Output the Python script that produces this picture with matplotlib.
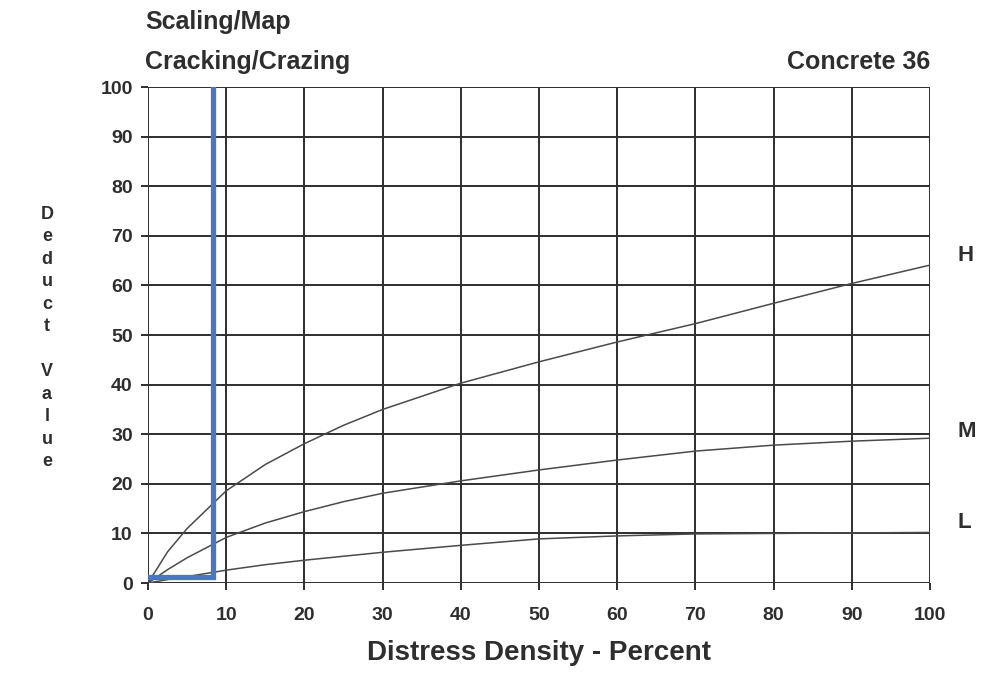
import numpy as np
import matplotlib.pyplot as plt

# Values
density = [0, 2.5, 5, 10, 15, 20, 25, 30, 40, 50, 60, 70, 80, 90, 100]
high = [0, 6.3, 11.0, 18.6, 23.9, 28.1, 31.8, 35.0, 40.3, 44.6, 48.6, 52.3, 56.4, 60.4, 64.1]
medium = [0, 2.7, 5.1, 9.2, 12.1, 14.4, 16.4, 18.1, 20.6, 22.8, 24.8, 26.6, 27.8, 28.6, 29.2]
low = [0, 0.7, 1.3, 2.6, 3.7, 4.6, 5.4, 6.2, 7.6, 8.9, 9.5, 9.9, 10.0, 10.1, 10.2]
levels = ['H', 'M', 'L']
label_y = [66, 30.5, 12.3]

# Blue reading line (density of 8.3 %)
marker_x = [0, 8.3, 8.3]
marker_y = [1.2, 1.2, 100]

ticks = np.arange(0, 101, 10)

plt.rcParams['font.family'] = ['Liberation Sans', 'DejaVu Sans']
fig = plt.figure(figsize=(9.83, 6.8), dpi=100)
ax = fig.add_axes([0.1506, 0.1426, 0.7955, 0.7294])

ink = '#2e2e2e'
for t in ticks:
    ax.axvline(t, color=ink, lw=1.4, zorder=1)
    ax.axhline(t, color=ink, lw=1.4, zorder=1)

for ys in [high, medium, low]:
    ax.plot(density, ys, color='#4a4a4a', lw=1.1, zorder=2)

ax.plot(marker_x, marker_y, color='#4a78c0', lw=3.8, solid_joinstyle='miter', zorder=3)

ax.set_xlim(0, 100)
ax.set_ylim(0, 100)
ax.set_xticks(ticks)
ax.set_yticks(ticks)
ax.tick_params(length=5, width=1.4, color=ink, labelcolor=ink, labelsize=14, pad=6)
ax.tick_params(axis='x', pad=12)
for lbl in ax.get_xticklabels() + ax.get_yticklabels():
    lbl.set_fontweight('bold')
for s in ax.spines.values():
    s.set_visible(False)

for lv, yv in zip(levels, label_y):
    ax.text(103.5, yv, lv, fontsize=16, fontweight='bold', color=ink, va='center', ha='left', clip_on=False)

ax.set_xlabel('Distress Density - Percent', fontsize=20, fontweight='bold', color=ink, labelpad=12)

fig.text(47 / 983, 1 - 338 / 680, '\n'.join('Deduct Value'), fontsize=13, fontweight='bold',
         color=ink, ha='center', va='center', linespacing=1.42)

fig.text(145 / 983, 1 - 22 / 680, 'Scaling/Map', fontsize=18, fontweight='bold', color=ink, ha='left', va='center')
fig.text(145 / 983, 1 - 62 / 680, 'Cracking/Crazing', fontsize=18, fontweight='bold', color=ink, ha='left', va='center')
fig.text(930 / 983, 1 - 62 / 680, 'Concrete 36', fontsize=18, fontweight='bold', color=ink, ha='right', va='center')

fig.savefig('out.png', dpi=100)
